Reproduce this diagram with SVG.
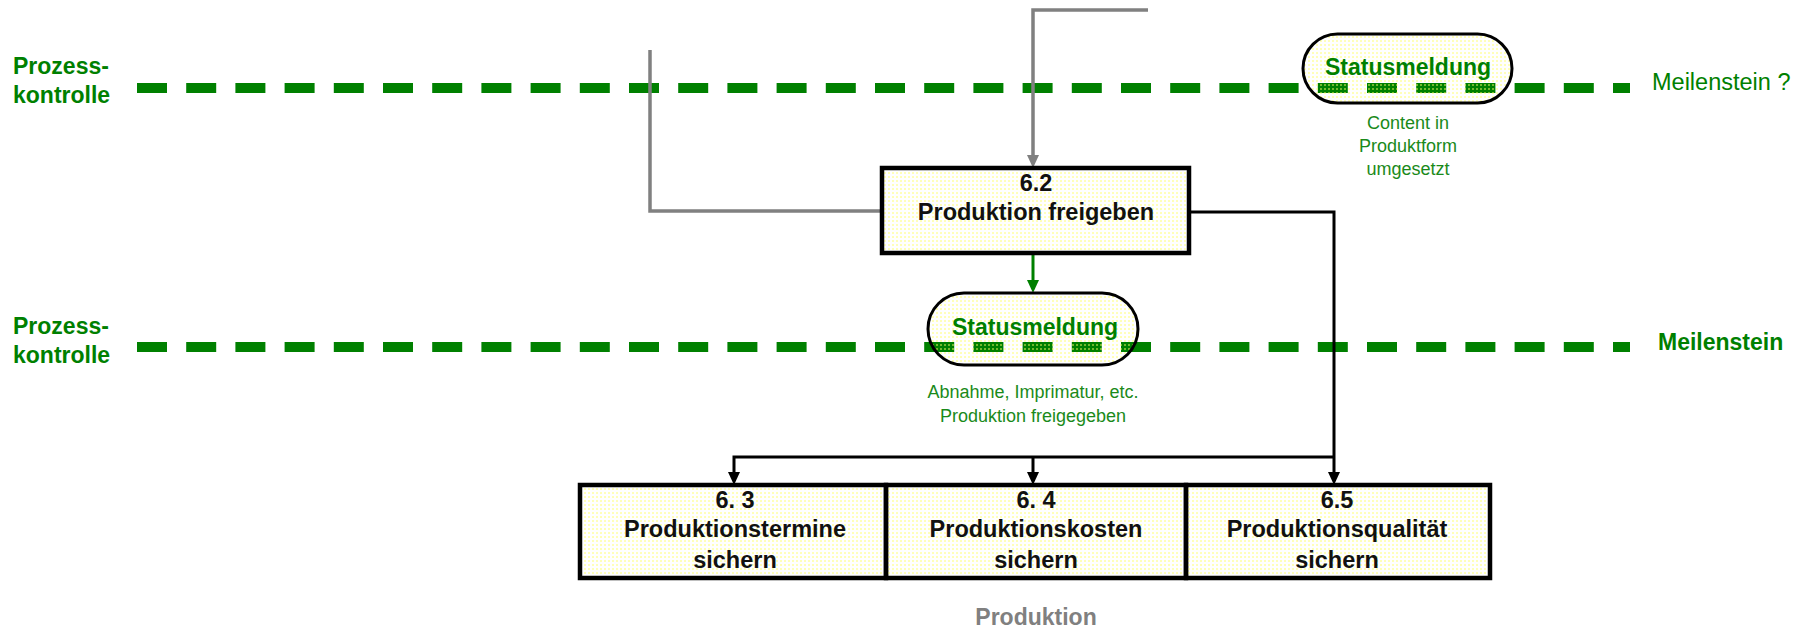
<svg xmlns="http://www.w3.org/2000/svg" width="1802" height="630" viewBox="0 0 1802 630">
<defs>
<pattern id="dots" width="4" height="4" patternUnits="userSpaceOnUse">
<rect x="0" y="0" width="2" height="2" fill="#ffff66" fill-opacity="0.45"/>
</pattern>
<marker id="arrB" viewBox="0 0 13 12" refX="9" refY="6" markerWidth="13" markerHeight="12" markerUnits="userSpaceOnUse" orient="auto">
<path d="M0,0 L13,6 L0,12 z" fill="#000"/>
</marker>
<marker id="arrG" viewBox="0 0 13 12" refX="9" refY="6" markerWidth="13" markerHeight="12" markerUnits="userSpaceOnUse" orient="auto">
<path d="M0,0 L13,6 L0,12 z" fill="#808080"/>
</marker>
<marker id="arrN" viewBox="0 0 13 12" refX="9" refY="6" markerWidth="13" markerHeight="12" markerUnits="userSpaceOnUse" orient="auto">
<path d="M0,0 L13,6 L0,12 z" fill="#008000"/>
</marker>
</defs>
<style>
text{font-family:"Liberation Sans",Arial,sans-serif}
.lbl{font-size:23px;font-weight:bold;fill:#008000}
.ms{font-size:23.5px;fill:#008000}
.sub{font-size:18px;fill:#1a8a1a;text-anchor:middle}
.bx{font-size:23.5px;font-weight:bold;fill:#111;text-anchor:middle}
.dash{stroke:#008000;stroke-width:10;stroke-dasharray:30 19.2;fill:none}
.box{fill:url(#dots);stroke:#000;stroke-width:4.5}
.pill{fill:url(#dots);stroke:#000;stroke-width:3}
.gray{stroke:#808080;stroke-width:3.5;fill:none}
.blk{stroke:#000;stroke-width:3;fill:none}
.grn{stroke:#008000;stroke-width:3;fill:none}
</style>
<rect width="1802" height="630" fill="#fff"/>
<g id="lanes">
<text class="lbl" x="13" y="74">Prozess-</text>
<text class="lbl" x="13" y="103">kontrolle</text>
<line class="dash" x1="137" y1="88" x2="1630" y2="88"/>
<text class="ms" x="1652" y="90">Meilenstein ?</text>
<text class="lbl" x="13" y="334">Prozess-</text>
<text class="lbl" x="13" y="363">kontrolle</text>
<line class="dash" x1="137" y1="347" x2="1630" y2="347"/>
<text class="lbl" x="1658" y="350">Meilenstein</text>
</g>
<g id="connectors">
<path class="gray" d="M1148,10 H1033 V164" marker-end="url(#arrG)"/>
<path class="gray" d="M650,50 V211 H882"/>
<path class="grn" d="M1033,253 V289" marker-end="url(#arrN)"/>
<path class="blk" d="M1189,212 H1334 V481" marker-end="url(#arrB)"/>
<path class="blk" d="M1334,457 H734 V481" marker-end="url(#arrB)"/>
<path class="blk" d="M1033,457 V481" marker-end="url(#arrB)"/>
</g>
<g id="status1">
<rect class="pill" x="1303" y="34" width="209" height="69" rx="34.5"/>
<text class="lbl" x="1408" y="75" text-anchor="middle">Statusmeldung</text>
<text class="sub" x="1408" y="129">Content in</text>
<text class="sub" x="1408" y="152">Produktform</text>
<text class="sub" x="1408" y="175">umgesetzt</text>
</g>
<g id="n62">
<rect class="box" x="882" y="168" width="307" height="85"/>
<text class="bx" x="1036" y="191">6.2</text>
<text class="bx" x="1036" y="220">Produktion freigeben</text>
</g>
<g id="status2">
<rect class="pill" x="928" y="293" width="210" height="72" rx="36"/>
<text class="lbl" x="1035" y="335" text-anchor="middle">Statusmeldung</text>
<text class="sub" x="1033" y="398">Abnahme, Imprimatur, etc.</text>
<text class="sub" x="1033" y="422">Produktion freigegeben</text>
</g>
<g id="n63">
<rect class="box" x="580" y="485" width="306" height="93"/>
<text class="bx" x="735" y="508">6. 3</text>
<text class="bx" x="735" y="537">Produktionstermine</text>
<text class="bx" x="735" y="568">sichern</text>
</g>
<g id="n64">
<rect class="box" x="886" y="485" width="300" height="93"/>
<text class="bx" x="1036" y="508">6. 4</text>
<text class="bx" x="1036" y="537">Produktionskosten</text>
<text class="bx" x="1036" y="568">sichern</text>
</g>
<g id="n65">
<rect class="box" x="1186" y="485" width="304" height="93"/>
<text class="bx" x="1337" y="508">6.5</text>
<text class="bx" x="1337" y="537">Produktionsqualität</text>
<text class="bx" x="1337" y="568">sichern</text>
</g>
<g id="title">
<text x="1036" y="625" text-anchor="middle" style="font-size:23px;font-weight:bold;fill:#808080">Produktion</text>
</g>
</svg>
